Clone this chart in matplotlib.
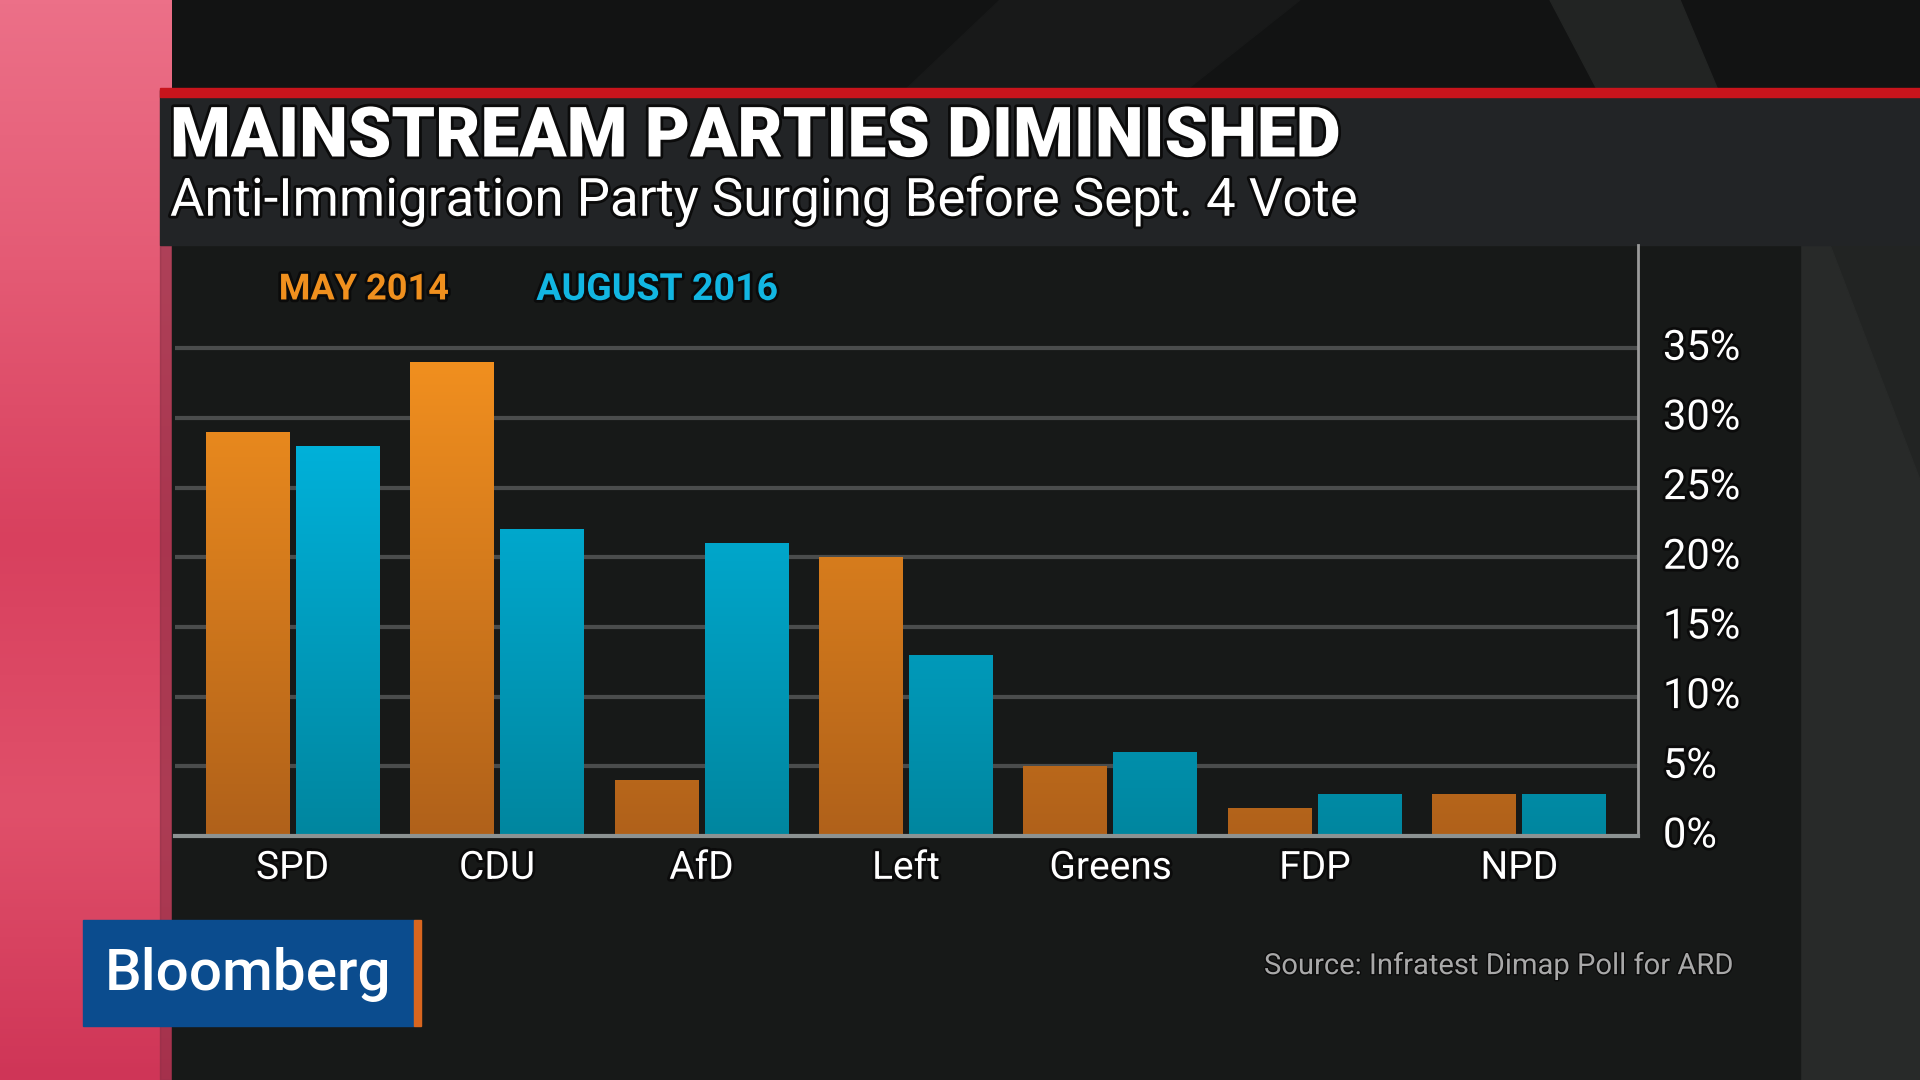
import numpy as np
import matplotlib
matplotlib.use("Agg")
import matplotlib.pyplot as plt
import matplotlib.patheffects as pe
from matplotlib.colors import LinearSegmentedColormap
from matplotlib.patches import Rectangle, Polygon

# data (percent)
PARTIES = ["SPD", "CDU", "AfD", "Left", "Greens", "FDP", "NPD"]
MAY_2014 = [29, 34, 4, 20, 5, 2, 3]
AUG_2016 = [28, 22, 21, 13, 6, 3, 3]
Y_TICKS = [0, 5, 10, 15, 20, 25, 30, 35]

TITLE = "MAINSTREAM PARTIES DIMINISHED"
SUBTITLE = "Anti-Immigration Party Surging Before Sept. 4 Vote"
SOURCE = "Source: Infratest Dimap Poll for ARD"

ORANGE_TOP, ORANGE_BOT = "#f5921f", "#b0611a"
CYAN_TOP, CYAN_BOT = "#00bdea", "#00869f"

plt.rcParams["font.family"] = ["Roboto", "DejaVu Sans"]

fig = plt.figure(figsize=(19.2, 10.8), dpi=100)
fig.patch.set_facecolor("#181919")

# ---- background layer in pixel coords ----
bg = fig.add_axes([0, 0, 1, 1], zorder=0)
bg.set_xlim(0, 1920)
bg.set_ylim(1080, 0)
bg.axis("off")

bg.add_patch(Rectangle((0, 0), 1920, 1080, color="#1a1b1b", zorder=0))
# top area with faint diagonal streaks
bg.add_patch(Rectangle((0, 0), 1920, 95, color="#121313", zorder=0.5))
bg.add_patch(Polygon([(1000, 0), (1300, 0), (1180, 95), (900, 95)], color="#181919", zorder=0.6))
bg.add_patch(Polygon([(1550, 0), (1680, 0), (1720, 95), (1600, 95)], color="#222423", zorder=0.6))
# right-hand lighter panel
bg.add_patch(Rectangle((1800, 95), 120, 985, color="#222423", zorder=0.6))
bg.add_patch(Polygon([(1800, 245), (1830, 245), (1920, 480), (1920, 1080), (1800, 1080)],
                     color="#282a29", zorder=0.65))

# pink left strip (vertical gradient)
pink = LinearSegmentedColormap.from_list("pink", ["#ec7088", "#e45a74", "#d8405e", "#e0506a", "#cf3557"])
grad = np.linspace(0, 1, 256).reshape(-1, 1)
bg.imshow(grad, cmap=pink, extent=[0, 172, 1080, 0], aspect="auto", zorder=1)
bg.add_patch(Rectangle((160, 245), 12, 835, color="#8a2f45", zorder=1.1, alpha=0.6))

# title panel + red line
bg.add_patch(Rectangle((160, 90), 1760, 155, color="#222426", zorder=2))
bg.add_patch(Rectangle((160, 88), 1760, 9, color="#c8141c", zorder=2.1))
# chart panel
bg.add_patch(Rectangle((172, 245), 1628, 835, color="#171918", zorder=1.5))

stroke = [pe.withStroke(linewidth=4, foreground="#0b0b0b")]
bg.text(170, 138, TITLE, fontsize=50, fontweight="black", color="white",
        ha="left", va="center", path_effects=stroke, zorder=5)
bg.text(170, 201, SUBTITLE, fontsize=38, color="white",
        ha="left", va="center", path_effects=stroke, zorder=5)

# Bloomberg logo
bg.add_patch(Rectangle((83, 920), 331, 106, color="#0b4c8e", zorder=5))
bg.add_patch(Rectangle((414, 920), 7, 106, color="#d9661f", zorder=5))
bg.text(248, 975, "Bloomberg", fontsize=42, color="white", fontweight="medium",
        ha="center", va="center", zorder=6)

bg.text(1733, 966, SOURCE, fontsize=21, color="#a8a8a8", ha="right", va="center",
        path_effects=[pe.withStroke(linewidth=2, foreground="#0b0b0b")], zorder=5)

# ---- chart ----
ax = fig.add_axes([0.0911, 0.226, 0.762, 0.547], zorder=3)
ax.set_facecolor("none")

x = np.arange(len(PARTIES))
w = 0.41
off = 0.22
b1 = ax.bar(x - off, MAY_2014, w, color="none", zorder=3)
b2 = ax.bar(x + off, AUG_2016, w, color="none", zorder=3)

ymax = 42.4
cm_o = LinearSegmentedColormap.from_list("o", [ORANGE_BOT, ORANGE_TOP])
cm_c = LinearSegmentedColormap.from_list("c", [CYAN_BOT, CYAN_TOP])
g = np.linspace(0, 1, 256).reshape(-1, 1)
for bars, cm in ((b1, cm_o), (b2, cm_c)):
    for p in bars:
        bx, bw, bh = p.get_x(), p.get_width(), p.get_height()
        # gradient spans the full chart height so short bars are darker at top
        im = ax.imshow(g[: max(2, int(256 * bh / 36))], cmap=cm, vmin=0, vmax=1,
                       extent=[bx, bx + bw, 0, bh], origin="lower",
                       aspect="auto", zorder=3)
        im.set_clip_path(p)

ax.set_xlim(-0.575, 6.58)
ax.set_ylim(0, ymax)

for t in Y_TICKS[1:]:
    ax.axhline(t, color="#4a4c4c", linewidth=3, zorder=1)

for s in ("left", "top"):
    ax.spines[s].set_visible(False)
ax.spines["bottom"].set_color("#8c9292")
ax.spines["bottom"].set_linewidth(3)
ax.spines["bottom"].set_zorder(4)
ax.spines["right"].set_color("#9a9a9a")
ax.spines["right"].set_linewidth(2)

ax.yaxis.tick_right()
ax.set_yticks(Y_TICKS)
ax.set_yticklabels([f"{t}%" for t in Y_TICKS])
ax.set_xticks(x)
ax.set_xticklabels(PARTIES)
ax.tick_params(axis="y", length=0, pad=18, labelsize=30, labelcolor="white")
ax.tick_params(axis="x", length=0, pad=10, labelsize=28, labelcolor="white")
for lab in ax.get_xticklabels() + ax.get_yticklabels():
    lab.set_path_effects(stroke)
for lab in ax.get_yticklabels():
    lab.set_verticalalignment("center")

# legend as coloured words
ax.text(0.071, 0.925, "MAY 2014", transform=ax.transAxes, color="#f0901e",
        fontsize=26, fontweight="bold", ha="left", va="center", path_effects=stroke)
ax.text(0.247, 0.925, "AUGUST 2016", transform=ax.transAxes, color="#12b6e2",
        fontsize=27, fontweight="bold", ha="left", va="center", path_effects=stroke)

fig.savefig("out.png", dpi=100, facecolor=fig.get_facecolor())
